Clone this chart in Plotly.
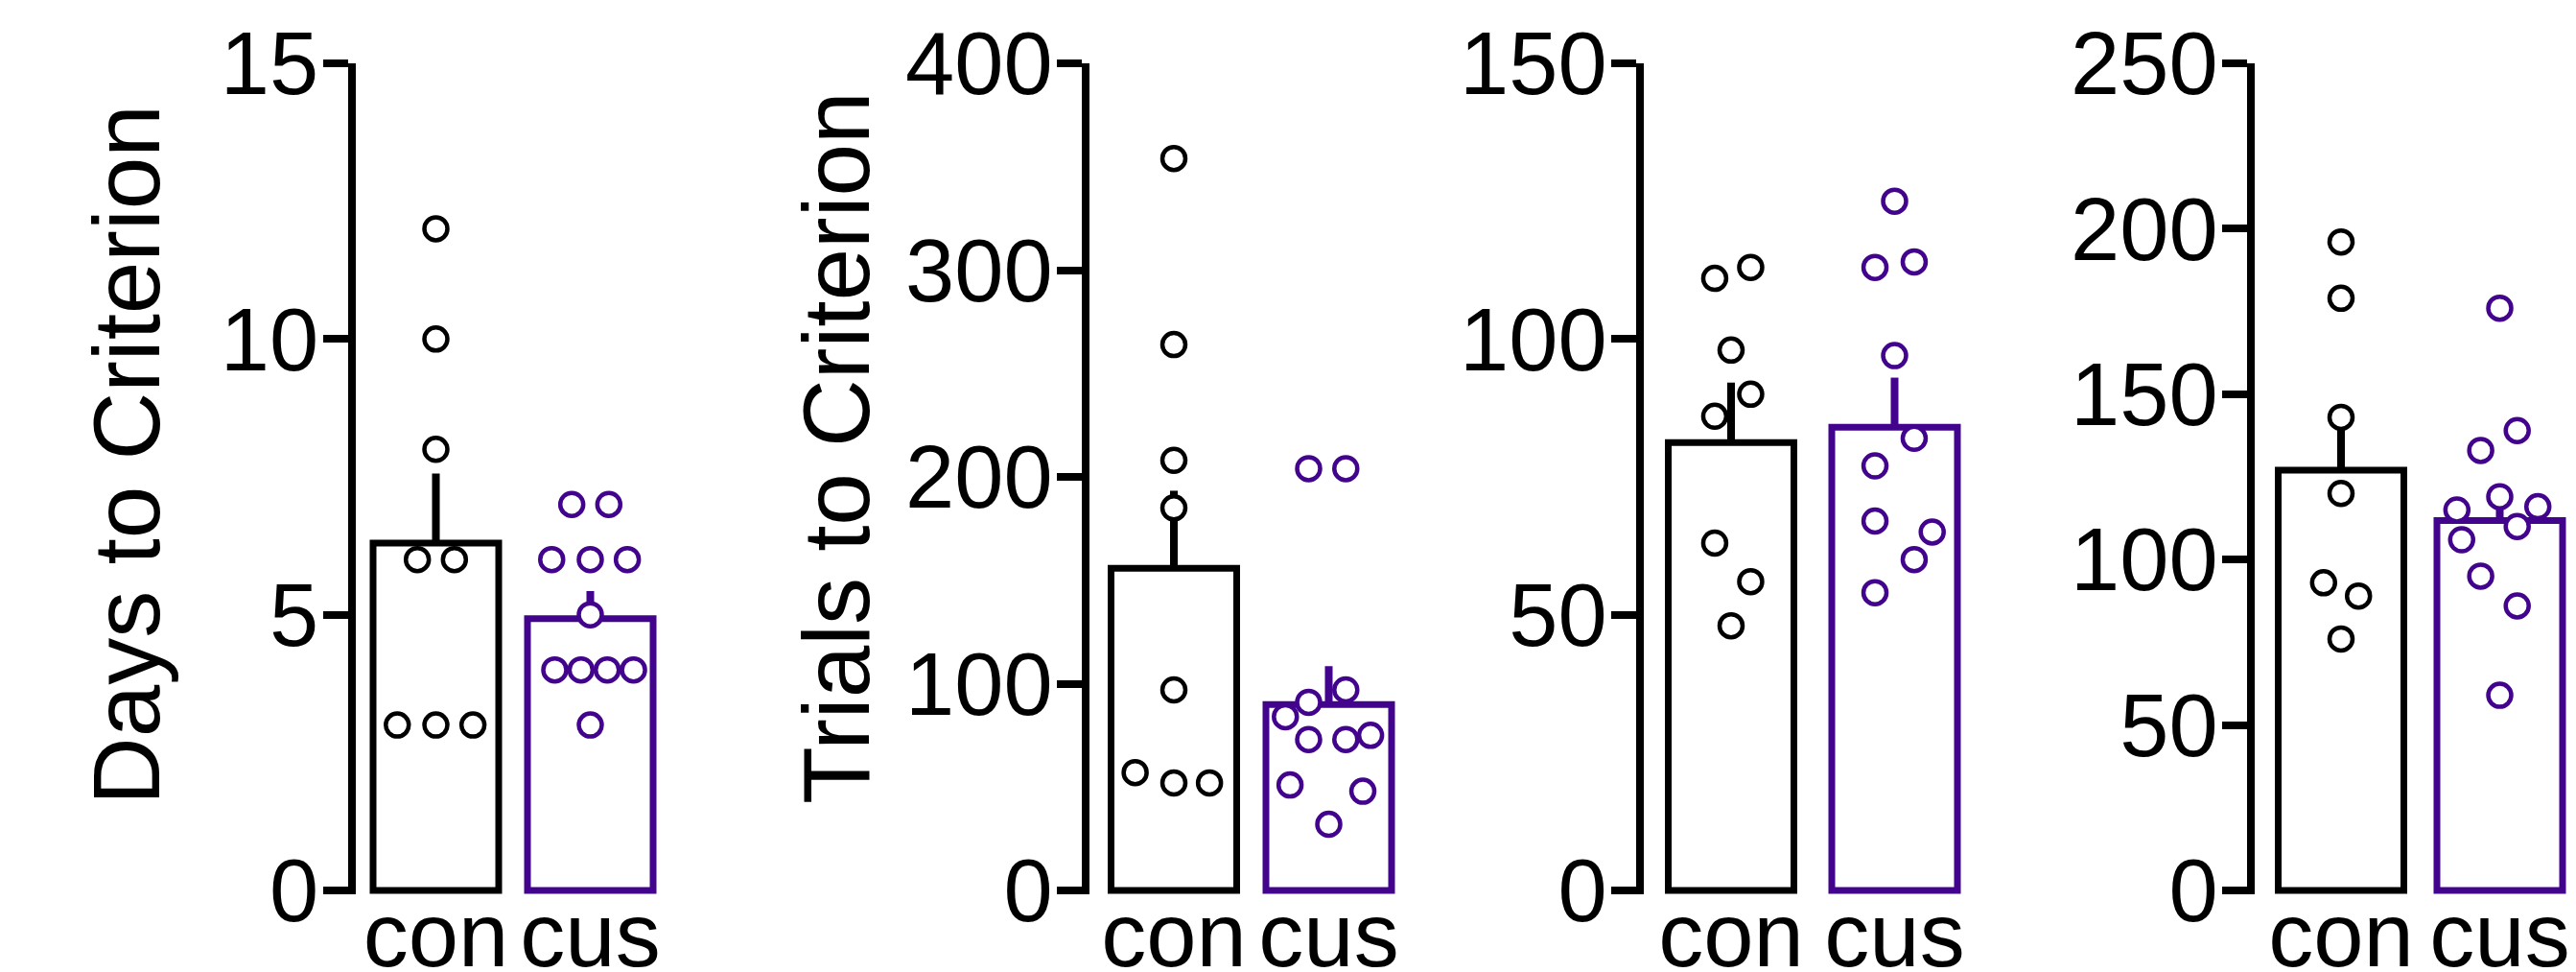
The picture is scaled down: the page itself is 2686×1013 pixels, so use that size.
import plotly.graph_objects as go

# ---------------- data ----------------
groups = ["con", "cus"]

days_con = [12, 10, 8, 6, 6, 3, 3, 3]
days_cus = [7, 7, 6, 6, 6, 5, 4, 4, 4, 4, 3]
days_mean = [6.3, 4.93]
days_sem = [1.26, 0.5]

trials_con = [354, 264, 208, 185, 97, 57, 52, 52]
trials_cus = [204, 204, 97, 91, 84, 75, 73, 73, 51, 48, 32]
trials_mean = [155.8, 89.9]
trials_sem = [37.5, 18.6]

p3_con = [113, 111, 98, 90, 86, 63, 56, 48]
p3_cus = [125, 114, 113, 97, 82, 77, 67, 65, 60, 54]
p3_mean = [81.2, 84.0]
p3_sem = [10.9, 9.0]

p4_con = [196, 179, 143, 120, 93, 89, 76]
p4_cus = [176, 139, 133, 119, 116, 115, 110, 106, 95, 86, 59]
p4_mean = [127.0, 111.8]
p4_sem = [16.0, 9.0]

# horizontal scatter spread of the dots (fraction of category spacing)
days_con_jit = [0, 0, 0, -0.12, 0.12, -0.25, 0, 0.24]
days_cus_jit = [-0.12, 0.12, -0.25, 0, 0.24, 0, -0.23, -0.06, 0.11, 0.28, 0]
trials_con_jit = [0, 0, 0, 0, 0, -0.25, 0, 0.23]
trials_cus_jit = [-0.13, 0.11, 0.11, -0.13, -0.28, 0.27, -0.13, 0.11, -0.25, 0.22, 0]
p3_con_jit = [0.12, -0.1, 0, 0.12, -0.1, -0.1, 0.12, 0]
p3_cus_jit = [0, 0.12, -0.12, 0, 0.12, -0.12, -0.12, 0.23, 0.12, -0.12]
p4_con_jit = [0, 0, 0, 0, -0.11, 0.11, 0]
p4_cus_jit = [0, 0.11, -0.12, 0, 0.24, -0.27, 0.11, -0.24, -0.12, 0.11, 0]

y_titles = ["Days to Criterion", "Trials to Criterion", "", ""]
y_max = [15, 400, 150, 250]
y_dtick = [5, 100, 50, 50]

# ---------------- style / layout ----------------
W, H = 2686, 1013
BLACK = "#000000"
PURPLE = "#42048C"
colors = [BLACK, PURPLE]
FONT = "Liberation Sans, Arial, Helvetica, sans-serif"

axis_px = [366.6, 1132, 1710, 2347]
con_px = [454.5, 1224, 1805, 2441]
cus_px = [615.5, 1385.5, 1975.5, 2606.5]
title_x_px = [132, 872, None, None]
title_y_px = [474, 467, None, None]
top_px, bottom_px = 66, 928
pad_px = 4
LW = 8

panels = [
    (days_con, days_cus, days_mean, days_sem, days_con_jit, days_cus_jit),
    (trials_con, trials_cus, trials_mean, trials_sem, trials_con_jit, trials_cus_jit),
    (p3_con, p3_cus, p3_mean, p3_sem, p3_con_jit, p3_cus_jit),
    (p4_con, p4_cus, p4_mean, p4_sem, p4_con_jit, p4_cus_jit),
]

fig = go.Figure()
layout = dict(
    width=W, height=H, autosize=False,
    margin=dict(l=0, r=0, t=0, b=0, autoexpand=False),
    paper_bgcolor="white", plot_bgcolor="white",
    showlegend=False, barmode="overlay",
    font=dict(family=FONT, color="black"),
)
annotations = []

for i, (cvals, svals, means, sems, cjit, sjit) in enumerate(panels):
    n = "" if i == 0 else str(i + 1)
    xa, ya = "x" + n, "y" + n
    spacing = cus_px[i] - con_px[i]
    left = axis_px[i] + LW / 2
    right = min(W, cus_px[i] + 0.47 * spacing)
    x_lo = -(con_px[i] - left) / spacing
    x_hi = (right - con_px[i]) / spacing
    bw = 131 / spacing
    ymax = y_max[i]
    ymin = -ymax * pad_px / (bottom_px - top_px)
    dom_bottom = bottom_px + pad_px

    for g in range(2):
        fig.add_trace(go.Bar(
            x=[g], y=[means[g]], width=bw, xaxis=xa, yaxis=ya,
            marker=dict(color="white", line=dict(color=colors[g], width=7)),
            error_y=dict(type="data", array=[sems[g]], arrayminus=[0], symmetric=False,
                         thickness=8, width=0, color=colors[g]),
        ))
    for g, (vals, jit) in enumerate([(cvals, cjit), (svals, sjit)]):
        fig.add_trace(go.Scatter(
            x=[g + j for j in jit], y=vals, mode="markers", xaxis=xa, yaxis=ya,
            cliponaxis=False,
            marker=dict(symbol="circle", size=24, color="white",
                        line=dict(color=colors[g], width=4.5)),
        ))

    layout["xaxis" + n] = dict(
        domain=[left / W, right / W], range=[x_lo, x_hi], anchor=ya,
        tickvals=[0, 1], ticktext=groups, ticks="", showline=False,
        showgrid=False, zeroline=False, fixedrange=True, automargin=False,
        ticklabelstandoff=-20,
        tickfont=dict(family=FONT, size=94, color="black"),
    )
    layout["yaxis" + n] = dict(
        domain=[1 - dom_bottom / H, 1 - top_px / H], range=[ymin, ymax], anchor=xa,
        tickmode="linear", tick0=0, dtick=y_dtick[i],
        ticks="outside", ticklen=26, tickwidth=8, tickcolor="black",
        showline=True, linewidth=LW, linecolor="black",
        showgrid=False, zeroline=False, fixedrange=True, automargin=False,
        ticklabelstandoff=-14,
        tickfont=dict(family=FONT, size=92, color="black"),
    )
    if y_titles[i]:
        annotations.append(dict(
            text=y_titles[i], textangle=-90, xref="paper", yref="paper",
            x=title_x_px[i] / W, y=1 - title_y_px[i] / H,
            xanchor="center", yanchor="middle", showarrow=False,
            font=dict(family=FONT, size=98, color="black"),
        ))

layout["annotations"] = annotations
fig.update_layout(**layout)
fig.write_html(
    "out.html",
    config={"displayModeBar": False, "staticPlot": True},
    post_script="document.body.style.margin='0';document.body.style.overflow='hidden';",
)
